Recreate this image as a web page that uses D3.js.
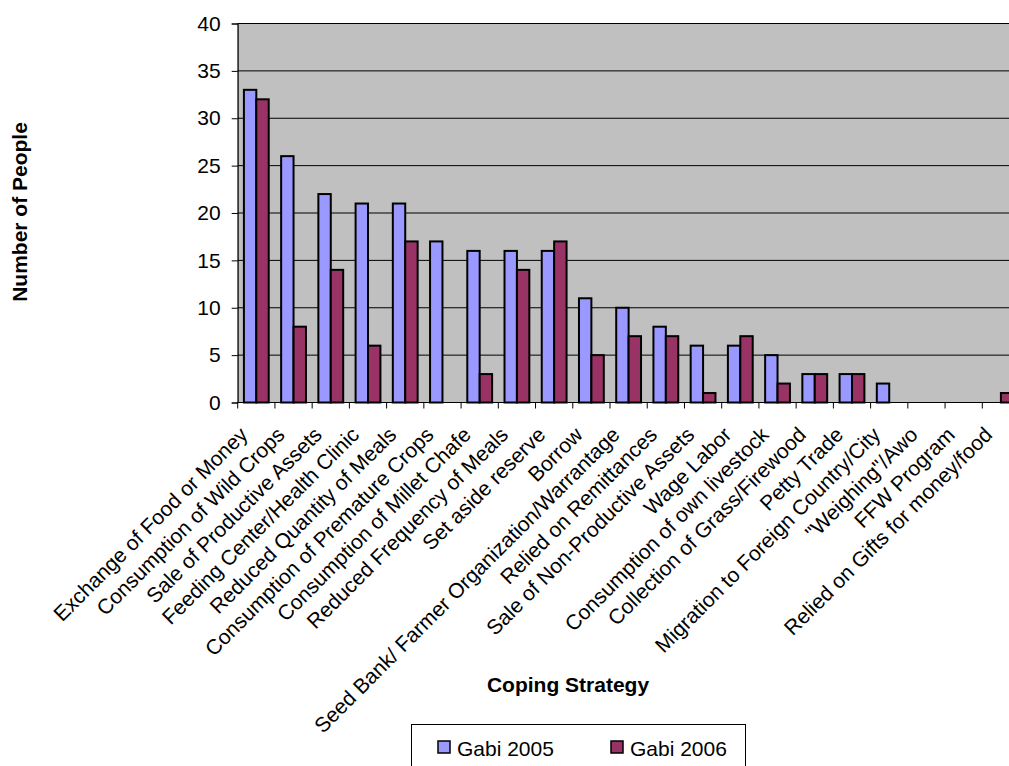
<!DOCTYPE html>
<html>
<head>
<meta charset="utf-8">
<script src="https://cdn.jsdelivr.net/npm/d3@7"></script>
<style>
  html, body { margin: 0; padding: 0; background: #fff; }
  svg { display: block; font-family: "Liberation Sans", Arial, sans-serif; }
</style>
</head>
<body>
<svg id="chart" width="1009" height="766"></svg>
<script>
// Coping strategies reported, and number of people per year
const categories = [
  "Exchange of Food or Money",
  "Consumption of Wild Crops",
  "Sale of Productive Assets",
  "Feeding Center/Health Clinic",
  "Reduced Quantity of Meals",
  "Consumption of Premature Crops",
  "Consumption of Millet Chafe",
  "Reduced Frequency of Meals",
  "Set aside reserve",
  "Borrow",
  "Seed Bank/ Farmer Organization/Warrantage",
  "Relied on Remittances",
  "Sale of Non-Productive Assets",
  "Wage Labor",
  "Consumption of own livestock",
  "Collection of Grass/Firewood",
  "Petty Trade",
  "Migration to Foreign Country/City",
  "\"Weighing\"/Awo",
  "FFW Program",
  "Relied on Gifts for money/food"
];
const seriesNames = ["Gabi 2005", "Gabi 2006"];
const gabi2005 = [33, 26, 22, 21, 21, 17, 16, 16, 16, 11, 10, 8, 6, 6, 5, 3, 3, 2, 0, 0, 0];
const gabi2006 = [32, 8, 14, 6, 17, 0, 3, 14, 17, 5, 7, 7, 1, 7, 2, 3, 3, 0, 0, 0, 1];
const yTicks = [0, 5, 10, 15, 20, 25, 30, 35, 40];

const colors = ["#9999FF", "#993366"];
const seriesValues = [gabi2005, gabi2006];

const svg = d3.select("#chart");

// Plot frame
const plotLeft = 237.7, plotTop = 23.5, plotBottom = 402.5;
const plotRight = plotLeft + categories.length * 37.23;

const x = d3.scaleBand().domain(categories).range([plotLeft, plotRight]).paddingInner(0).paddingOuter(0);
const xSub = d3.scaleBand().domain(seriesNames).range([0, x.bandwidth()]).paddingInner(0).paddingOuter(0.5);
const y = d3.scaleLinear().domain([0, 40]).range([plotBottom, plotTop]);

// Grey plot background
svg.append("rect")
  .attr("x", plotLeft).attr("y", plotTop)
  .attr("width", plotRight - plotLeft).attr("height", plotBottom - plotTop)
  .attr("fill", "#C0C0C0")
  .attr("stroke", "#808080").attr("stroke-width", 1);

// Horizontal gridlines
svg.append("g").selectAll("line")
  .data(yTicks.filter(d => d > 0))
  .join("line")
  .attr("x1", plotLeft).attr("x2", plotRight)
  .attr("y1", d => y(d)).attr("y2", d => y(d))
  .attr("stroke", "#000").attr("stroke-width", 1);

// Y axis
const yAxis = svg.append("g")
  .attr("transform", `translate(${plotLeft},0)`)
  .call(d3.axisLeft(y).tickValues(yTicks).tickSize(6).tickPadding(11));
yAxis.select(".domain").attr("stroke", "#000");
yAxis.selectAll(".tick line").attr("stroke", "#000");
yAxis.selectAll(".tick text")
  .attr("font-size", 21).attr("fill", "#000")
  .attr("font-family", "'Liberation Sans', Arial, sans-serif");

// Bars
const groups = svg.append("g").selectAll("g")
  .data(seriesNames)
  .join("g")
  .attr("fill", (d, i) => colors[i]);

groups.selectAll("rect")
  .data((s, si) => categories.map((c, ci) => ({ c, s, v: seriesValues[si][ci] })).filter(d => d.v > 0))
  .join("rect")
  .attr("x", d => x(d.c) + xSub(d.s))
  .attr("y", d => y(d.v))
  .attr("width", xSub.bandwidth())
  .attr("height", d => y(0) - y(d.v))
  .attr("stroke", "#000")
  .attr("stroke-width", 2);

// X axis line and tick marks between categories
const xAxis = svg.append("g");
xAxis.append("line")
  .attr("x1", plotLeft).attr("x2", plotRight)
  .attr("y1", plotBottom).attr("y2", plotBottom)
  .attr("stroke", "#000");
xAxis.selectAll("line.tick")
  .data(categories.map(c => x(c)).concat([plotRight]))
  .join("line")
  .attr("class", "tick")
  .attr("x1", d => d).attr("x2", d => d)
  .attr("y1", plotBottom).attr("y2", plotBottom + 6)
  .attr("stroke", "#000");

// Rotated category labels
xAxis.selectAll("text")
  .data(categories)
  .join("text")
  .attr("transform", d => `translate(${x(d) + x.bandwidth() / 2 - 7.5},436) rotate(-45)`)
  .attr("text-anchor", "end")
  .attr("font-size", 21)
  .attr("fill", "#000")
  .text(d => d);

// Axis titles
svg.append("text")
  .attr("x", 568).attr("y", 692)
  .attr("text-anchor", "middle")
  .attr("font-size", 21).attr("font-weight", "bold")
  .text("Coping Strategy");

svg.append("text")
  .attr("transform", "translate(27,212) rotate(-90)")
  .attr("text-anchor", "middle")
  .attr("font-size", 21).attr("font-weight", "bold")
  .text("Number of People");

// Legend
const legend = svg.append("g");
legend.append("rect")
  .attr("x", 411.5).attr("y", 724.5)
  .attr("width", 334).attr("height", 60)
  .attr("fill", "#fff").attr("stroke", "#000").attr("stroke-width", 1);

const legendX = [438, 611];
const items = legend.selectAll("g.item")
  .data(seriesNames)
  .join("g")
  .attr("class", "item")
  .attr("transform", (d, i) => `translate(${legendX[i]},741)`);
items.append("rect")
  .attr("width", 12).attr("height", 12)
  .attr("fill", (d, i) => colors[i])
  .attr("stroke", "#000").attr("stroke-width", 1.5);
items.append("text")
  .attr("x", 19).attr("y", 14.5)
  .attr("font-size", 21).attr("fill", "#000")
  .text(d => d);
</script>
</body>
</html>
